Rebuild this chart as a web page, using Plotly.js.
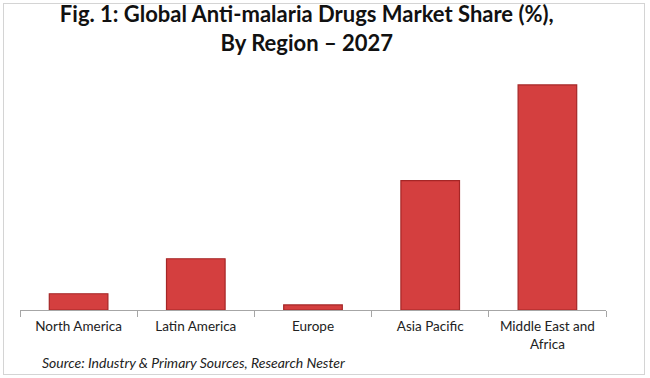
<!DOCTYPE html>
<html><head><meta charset="utf-8">
<script src="https://cdn.plot.ly/plotly-3.0.1.min.js"></script>
<style>
html,body{margin:0;padding:0;background:#fff;}
#wrap{position:relative;width:650px;height:378px;}
#chart{position:absolute;left:0;top:0;width:650px;height:378px;}
#frame{position:absolute;left:3px;top:3px;width:640px;height:370px;border:1px solid #d4d4d4;pointer-events:none;}
</style></head>
<body>
<div id="wrap"><div id="chart"></div><div id="frame"></div></div>
<script>
const regions = ["North America", "Latin America", "Europe", "Asia Pacific", "Middle East and<br>Africa"];
const share2027 = [3.8, 12.0, 1.2, 30.3, 52.7];
const titleText = "<b>Fig. 1: Global Anti-malaria Drugs Market Share (%),<br>By Region – 2027</b>";
const sourceText = "<i>Source: Industry &amp; Primary Sources, Research Nester</i>";

const trace = {
  type: 'bar',
  x: regions,
  y: share2027,
  width: 0.5,
  marker: {color: '#d43f3f', line: {color: '#a52626', width: 1.2}},
  hoverinfo: 'none'
};

const layout = {
  width: 650, height: 378,
  margin: {l: 20, r: 44, t: 70, b: 68},
  paper_bgcolor: '#ffffff', plot_bgcolor: '#ffffff',
  font: {family: 'Lato, "Open Sans", sans-serif', color: '#222'},
  title: {
    text: titleText,
    font: {family: 'Lato, sans-serif', size: 22, color: '#111'},
    x: 0.472, xanchor: 'center', xref: 'container',
    y: 0.942, yanchor: 'middle', yref: 'container'
  },
  showlegend: false,
  bargap: 0.5,
  xaxis: {
    type: 'category',
    showline: true, linecolor: '#a6a6a6', linewidth: 1,
    ticks: 'outside', tickson: 'boundaries', ticklen: 6, tickcolor: '#a6a6a6',
    tickfont: {size: 13.5, color: '#222'},
    ticklabelstandoff: 4,
    showgrid: false, zeroline: false, fixedrange: true
  },
  yaxis: {
    range: [0, 56.2], visible: false, showgrid: false, zeroline: false, fixedrange: true
  },
  annotations: [{
    text: sourceText, xref: 'paper', yref: 'paper',
    x: 0.034, y: -0.217, xanchor: 'left', yanchor: 'middle',
    showarrow: false, font: {size: 14, color: '#222'}
  }]
};

Plotly.newPlot('chart', [trace], layout, {displayModeBar: false, staticPlot: true});
</script>
</body></html>
